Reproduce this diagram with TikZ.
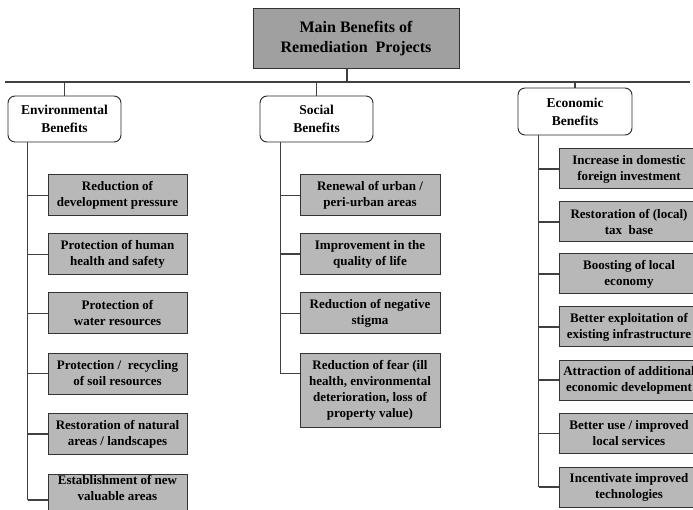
\documentclass[tikz,border=0pt]{standalone}
\usepackage{fontspec}
\setmainfont{Liberation Serif}
\usetikzlibrary{calc}
\definecolor{titlefill}{HTML}{A0A0A0}
\definecolor{subfill}{HTML}{B8B8B8}
\definecolor{linec}{HTML}{404040}
\tikzset{
  titlebox/.style={draw=black!80, line width=1pt, fill=titlefill, minimum width=206pt, minimum height=60pt, align=center, font=\bfseries\fontsize{16}{20}\selectfont, inner sep=0pt},
  catbox/.style={draw=black!85, line width=0.9pt, fill=white, rounded corners=7pt, minimum width=113pt, minimum height=46pt, align=center, font=\bfseries\fontsize{13.5}{18}\selectfont, inner sep=0pt},
  subbox/.style={draw=black!80, line width=1pt, fill=subfill, minimum width=140pt, minimum height=41pt, align=center, font=\bfseries\fontsize{13}{16}\selectfont, inner sep=0pt},
  conn/.style={draw=linec, line width=1.3pt},
}
\begin{document}
\begin{tikzpicture}[x=1pt,y=-1pt]
\useasboundingbox (0,0) rectangle (693,510);
\clip (0,0) rectangle (693,510);
% title and bus
\node[titlebox] (title) at (356,39) {Main Benefits of\\Remediation\ \ Projects};
\coordinate (busL) at (5,82);
\coordinate (busR) at (690,82);
\draw[conn] (busL) -- (busR);
\draw[conn] ([xshift=-9pt]title.south) -- ([xshift=-9pt]title.south |- busL);
% categories
\node[catbox] (env) at (64.5,119) {Environmental\\Benefits};
\node[catbox] (soc) at (316.5,119) {Social\\Benefits};
\node[catbox, minimum width=114pt, minimum height=47pt] (eco) at (575,111.5) {Economic\\Benefits};
\foreach \c in {env,soc,eco}{
  \draw[conn] (\c.north) -- (\c.north |- busL);
}
% environmental sub-boxes
\node[subbox, minimum width=139pt] (e1) at (117.5,195.5) {Reduction of\\development pressure};
\node[subbox, minimum width=139pt] (e2) at (117.5,254.5) {Protection of human\\health and safety};
\node[subbox, minimum width=139pt] (e3) at (117.5,313.5) {Protection of\\water resources};
\node[subbox, minimum width=139pt] (e4) at (117.5,373.5) {Protection /\ \ recycling\\of soil resources};
\node[subbox, minimum width=139pt] (e5) at (117.5,434) {Restoration of natural\\areas / landscapes};
\node[subbox, minimum width=139pt, minimum height=52pt] (e6) at (117.5,500) {Establishment of new\\valuable areas\\[3pt]\strut};
\coordinate (espine) at ($(env.south west)+(20,0)$);
\draw[conn] (espine) -- (espine |- e6.west);
\foreach \b in {e1,e2,e3,e4,e5,e6}{
  \draw[conn] (espine |- \b.west) -- (\b.west);
}
% social sub-boxes
\node[subbox] (s1) at (370,195.5) {Renewal of urban /\\peri-urban areas};
\node[subbox] (s2) at (370,254) {Improvement in the\\quality of life};
\node[subbox] (s3) at (370,313.5) {Reduction of negative\\stigma};
\node[subbox, minimum height=74pt] (s4) at (370,390) {Reduction of fear (ill\\health, environmental\\deterioration, loss of\\property value)};
\coordinate (sspine) at ($(soc.south west)+(21,0)$);
\coordinate (s4b) at ($(s4.north west)+(0,21)$);
\draw[conn] (sspine) -- (sspine |- s4b);
\foreach \b in {s1,s2,s3}{
  \draw[conn] (sspine |- \b.west) -- (\b.west);
}
\draw[conn] (sspine |- s4b) -- (s4b);
% economic sub-boxes
\node[subbox, minimum height=40pt] (c1) at (629,169) {Increase in domestic\\foreign investment};
\node[subbox, minimum height=40pt] (c2) at (629,222) {Restoration of (local)\\tax\ \ base};
\node[subbox, minimum height=40pt] (c3) at (629,274) {Boosting of local\\economy};
\node[subbox, minimum height=40pt] (c4) at (629,327) {Better exploitation of\\existing infrastructure};
\node[subbox, minimum height=40pt] (c5) at (629,380) {Attraction of additional\\economic development};
\node[subbox, minimum height=40pt] (c6) at (629,433.5) {Better use / improved\\local services};
\node[subbox, minimum height=40pt] (c7) at (629,487) {Incentivate improved\\technologies};
\coordinate (cspine) at ($(eco.south west)+(21,0)$);
\draw[conn] (cspine) -- (cspine |- c7.west);
\foreach \b in {c1,c2,c3,c4,c5,c6,c7}{
  \draw[conn] (cspine |- \b.west) -- (\b.west);
}
\end{tikzpicture}
\end{document}
